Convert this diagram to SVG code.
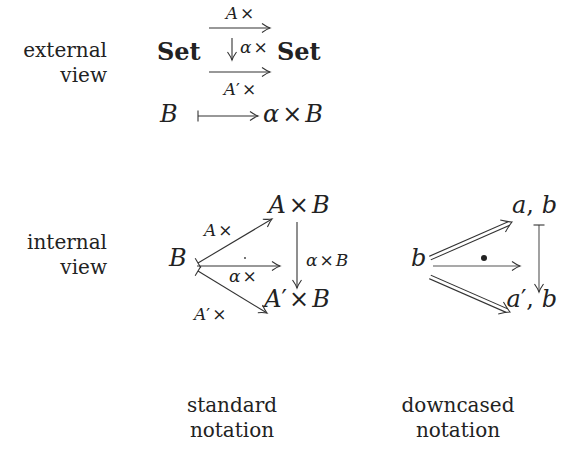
<svg xmlns="http://www.w3.org/2000/svg" width="561" height="476" viewBox="0 0 561 476" font-family="DejaVu Serif, serif">
<style>
text{font-family:"DejaVu Serif",serif;fill:#222}
.txt{font-size:20px}
.big{font-size:24px}
.lab{font-size:17px}
.it{font-style:italic}
.bf{font-weight:bold}
.ln{stroke:#333;stroke-width:1.1;fill:none}
.gr{stroke:#555;stroke-width:1.1;fill:none}
</style>
<defs>
<marker id="ah" viewBox="-10 -6 12 12" markerWidth="12" markerHeight="12" refX="0" refY="0" orient="auto" markerUnits="userSpaceOnUse">
<path d="M-8,-4.5 Q-3,-1 0,0 Q-3,1 -8,4.5" fill="none" stroke="#333" stroke-width="1.1"/>
</marker>
<marker id="ahd" viewBox="-13 -8 15 16" markerWidth="15" markerHeight="16" refX="0" refY="0" orient="auto" markerUnits="userSpaceOnUse">
<path d="M-10,-6.5 Q-4,-2 0,0 Q-4,2 -10,6.5" fill="none" stroke="#333" stroke-width="1.1"/>
</marker>
<marker id="bar" viewBox="-2 -7 4 14" markerWidth="4" markerHeight="14" refX="0" refY="0" orient="auto" markerUnits="userSpaceOnUse">
<path d="M0,-5.5 L0,5.5" stroke="#333" stroke-width="1.1"/>
</marker>
</defs>

<g id="label-external">
<text class="txt" x="107" y="57" text-anchor="end">external</text>
<text class="txt" x="107" y="82" text-anchor="end">view</text>
</g>
<g id="node-set-left"><text class="big bf" x="157" y="60">Set</text></g>
<g id="node-set-right"><text class="big bf" x="277" y="60">Set</text></g>
<g id="node-B-top"><text class="big it" x="160" y="122">B</text></g>
<g id="node-aB-top"><text class="big" x="263" y="122"><tspan class="it">α</tspan><tspan dx="3">×</tspan><tspan class="it" dx="3">B</tspan></text></g>

<g id="label-internal">
<text class="txt" x="107" y="249" text-anchor="end">internal</text>
<text class="txt" x="107" y="274" text-anchor="end">view</text>
</g>
<g id="node-B"><text class="big it" x="169" y="266">B</text></g>
<g id="node-AxB"><text class="big" x="299" y="213" text-anchor="middle"><tspan class="it">A</tspan><tspan dx="3">×</tspan><tspan class="it" dx="3">B</tspan></text></g>
<g id="node-A2xB"><text class="big" x="297" y="307" text-anchor="middle"><tspan class="it">A</tspan>′<tspan dx="2">×</tspan><tspan class="it" dx="3">B</tspan></text></g>

<g id="node-b"><text class="big it" x="411" y="266">b</text></g>
<g id="node-ab"><text class="big" x="557" y="213" text-anchor="end"><tspan class="it">a</tspan>, <tspan class="it">b</tspan></text></g>
<g id="node-a2b"><text class="big" x="557" y="307" text-anchor="end"><tspan class="it">a</tspan>′, <tspan class="it">b</tspan></text></g>

<g id="label-standard">
<text class="txt" x="232" y="412" text-anchor="middle">standard</text>
<text class="txt" x="232" y="437" text-anchor="middle">notation</text>
</g>
<g id="label-downcased">
<text class="txt" x="458" y="412" text-anchor="middle">downcased</text>
<text class="txt" x="458" y="437" text-anchor="middle">notation</text>
</g>

<g id="connectors">
<path class="ln" d="M209,28 L270,28" marker-end="url(#ah)"/>
<text class="lab" x="240" y="19" text-anchor="middle"><tspan class="it">A</tspan><tspan dx="2">×</tspan></text>
<path class="ln" d="M232,38 L232,60" marker-end="url(#ah)"/>
<text class="lab" x="240" y="53"><tspan class="it">α</tspan><tspan dx="2">×</tspan></text>
<path class="ln" d="M209,72 L270,72" marker-end="url(#ah)"/>
<text class="lab" x="240" y="95" text-anchor="middle"><tspan class="it">A</tspan>′<tspan dx="2">×</tspan></text>
<path class="ln" d="M198,116 L258,116" marker-start="url(#bar)" marker-end="url(#ah)"/>

<path class="ln" d="M198,263 L272,219" marker-start="url(#bar)" marker-end="url(#ah)"/>
<text class="lab" x="204" y="236"><tspan class="it">A</tspan><tspan dx="2">×</tspan></text>
<path class="ln" d="M197,266 L280,266" stroke-width="1.6" marker-end="url(#ah)"/>
<circle cx="245" cy="258" r="0.9" fill="#333"/>
<text class="lab" x="229" y="282"><tspan class="it">α</tspan><tspan dx="2">×</tspan></text>
<path class="ln" d="M198,271 L267,313" marker-start="url(#bar)" marker-end="url(#ah)"/>
<text class="lab" x="194" y="320"><tspan class="it">A</tspan>′<tspan dx="2">×</tspan></text>
<path class="ln" d="M297,222 L297,288" marker-end="url(#ah)"/>
<text class="lab" x="306" y="266"><tspan class="it">α</tspan><tspan dx="2">×</tspan><tspan class="it" dx="2">B</tspan></text>

<path d="M430,258 L509,223.5" stroke="#333" stroke-width="5" fill="none"/>
<path d="M428,259 L510,223" stroke="#fff" stroke-width="2.8" fill="none"/>
<path d="M430,258 L512,222" stroke="none" fill="none" marker-end="url(#ahd)"/>
<path class="gr" d="M433,266 L520,266" marker-end="url(#ah)"/>
<circle cx="484" cy="258" r="3" fill="#222"/>
<path d="M430,277 L507,310.7" stroke="#333" stroke-width="5" fill="none"/>
<path d="M428,276 L508,311" stroke="#fff" stroke-width="2.8" fill="none"/>
<path d="M430,277 L510,312" stroke="none" fill="none" marker-end="url(#ahd)"/>
<path class="gr" d="M539,225 L539,292" marker-start="url(#bar)" marker-end="url(#ah)"/>
</g>
</svg>
